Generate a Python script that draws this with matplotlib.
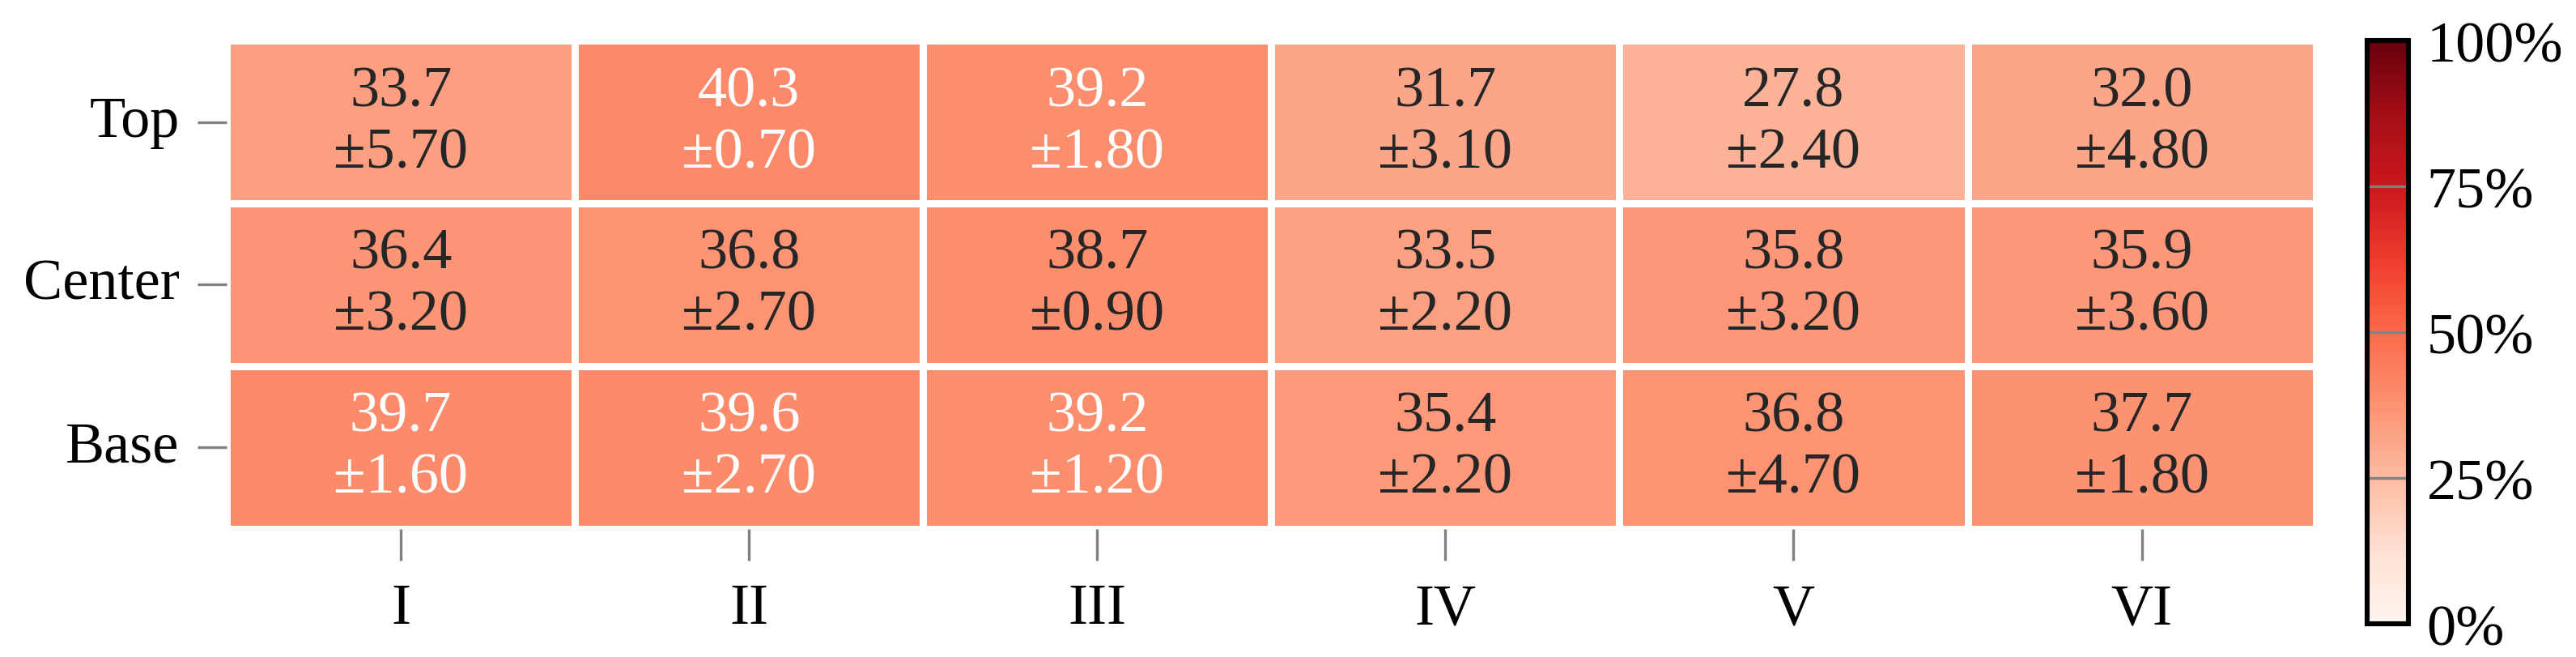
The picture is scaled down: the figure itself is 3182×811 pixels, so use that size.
import numpy as np
import matplotlib
matplotlib.use("Agg")
import matplotlib.pyplot as plt
import seaborn as sns

rows = ["Top", "Center", "Base"]
cols = ["I", "II", "III", "IV", "V", "VI"]
means = [
    [33.7, 40.3, 39.2, 31.7, 27.8, 32.0],
    [36.4, 36.8, 38.7, 33.5, 35.8, 35.9],
    [39.7, 39.6, 39.2, 35.4, 36.8, 37.7],
]
stds = [
    [5.70, 0.70, 1.80, 3.10, 2.40, 4.80],
    [3.20, 2.70, 0.90, 2.20, 3.20, 3.60],
    [1.60, 2.70, 1.20, 2.20, 4.70, 1.80],
]
cbar_ticks = [0, 25, 50, 75, 100]
cbar_labels = ["0%", "25%", "50%", "75%", "100%"]

plt.rcParams["font.family"] = ["Liberation Serif", "DejaVu Serif"]
plt.rcParams["font.size"] = 26

M = np.array(means)
S = np.array(stds)
annot = np.array([[f"{m:.1f}\n\u00b1{s:.2f}" for m, s in zip(mr, sr)] for mr, sr in zip(M, S)])

fig = plt.figure(figsize=(15.91, 4.06), dpi=200)
ax = fig.add_axes([0.088, 0.195, 0.811, 0.742])
cbw = 0.016
cax = fig.add_axes([0.919, 0.05, cbw, 0.887])

sns.heatmap(M, ax=ax, cbar_ax=cax, cmap="Reds", vmin=0, vmax=100,
            annot=annot, fmt="", linewidths=2.6, linecolor="white",
            annot_kws={"fontsize": 26, "linespacing": 1.22},
            xticklabels=cols, yticklabels=rows)

ax.tick_params(axis="both", colors="gray", labelcolor="black", width=1.2, labelsize=26)
ax.tick_params(axis="x", length=14, pad=10)
ax.tick_params(axis="y", length=13, pad=8, rotation=0)

cb = ax.collections[0].colorbar
cb.set_ticks(cbar_ticks)
cb.set_ticklabels(cbar_labels)
bar_w_pt = cbw * 15.91 * 72
cb.ax.tick_params(direction="in", length=bar_w_pt, width=1.2, colors="gray", labelcolor="black", labelsize=26, pad=8)
cb.outline.set_visible(True)
cb.outline.set_edgecolor("black")
cb.outline.set_linewidth(2.2)
cb.outline.set_zorder(5)

fig.savefig("out.png", dpi=200)
